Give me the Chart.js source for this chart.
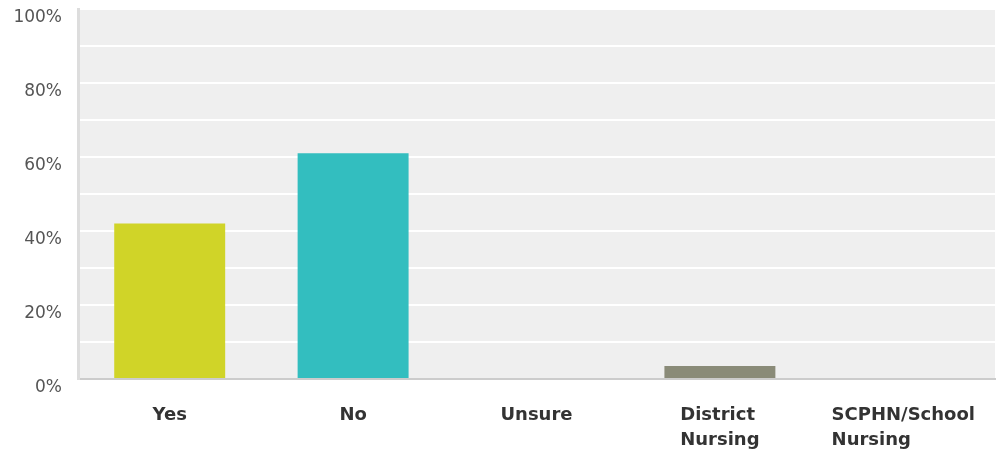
<!DOCTYPE html>
<html>
<head>
<meta charset="utf-8">
<script src="https://cdn.jsdelivr.net/npm/chart.js@4/dist/chart.umd.min.js"></script>
<style>
  html, body { margin: 0; padding: 0; background: #fff; }
  #wrap { width: 997px; height: 450px; position: relative; }
</style>
</head>
<body>
<div id="wrap"><canvas id="myChart"></canvas></div>
<script>
// answer categories (multi-line labels) and percentage of responses
var categories = [['Yes'], ['No'], ['Unsure'], ['District', 'Nursing'], ['SCPHN/School', 'Nursing']];
var responsePct = [42, 61, 0, 3.5, 0];
var barColors = ['#d0d428', '#33bebf', '#a9a9a9', '#8a8b78', '#b0b0b0'];
var yTickLabels = ['0%', '', '20%', '', '40%', '', '60%', '', '80%', '', '100%'];

// grey plot background behind the bars
var plotBackground = {
    id: 'plotBackground',
    beforeDraw: function(chart) {
        var a = chart.chartArea, ctx = chart.ctx;
        ctx.save();
        ctx.fillStyle = '#efefef';
        ctx.fillRect(a.left, a.top, a.right - a.left, a.bottom - a.top);
        ctx.restore();
    }
};

// category labels: bold, lines left aligned, block centred under the bar
var categoryLabels = {
    id: 'categoryLabels',
    afterDraw: function(chart) {
        var ctx = chart.ctx, xScale = chart.scales.x;
        ctx.save();
        ctx.font = 'bold 18px "DejaVu Sans"';
        ctx.fillStyle = '#333';
        ctx.textBaseline = 'middle';
        ctx.textAlign = 'left';
        categories.forEach(function(lines, i) {
            var cx = xScale.getPixelForValue(i);
            var w = 0;
            lines.forEach(function(l) { w = Math.max(w, ctx.measureText(l).width); });
            lines.forEach(function(l, j) {
                ctx.fillText(l, cx - w / 2, chart.chartArea.bottom + 36 + j * 25);
            });
        });
        ctx.restore();
    }
};

var ctx = document.getElementById('myChart').getContext('2d');
var myBarChart = new Chart(ctx, {
    type: 'bar',
    data: {
        labels: categories.map(function(c) { return c.join(' '); }),
        datasets: [{
            data: responsePct,
            backgroundColor: barColors,
            borderWidth: 0,
            barPercentage: 0.605,
            categoryPercentage: 1
        }]
    },
    options: {
        responsive: true,
        maintainAspectRatio: false,
        animation: false,
        layout: { padding: { top: 9, right: 2, left: 0, bottom: 0 } },
        plugins: { legend: { display: false }, tooltip: { enabled: false } },
        scales: {
            x: {
                grid: { display: false },
                border: { color: '#cccccc', width: 2 },
                ticks: { display: false },
                afterFit: function(scale) { scale.height = 71; }
            },
            y: {
                min: 0,
                max: 100,
                afterFit: function(scale) {
                    scale.width = 78;
                    scale.paddingTop = 0;
                    scale.paddingBottom = 0;
                },
                grid: { color: '#ffffff', lineWidth: 2, drawTicks: false },
                border: { color: '#dddddd', width: 3 },
                ticks: {
                    stepSize: 10,
                    padding: 16,
                    labelOffset: 9,
                    color: '#555',
                    font: { family: 'DejaVu Sans', size: 17 },
                    callback: function(value) { return yTickLabels[value / 10]; }
                }
            }
        }
    },
    plugins: [plotBackground, categoryLabels]
});
</script>
</body>
</html>
